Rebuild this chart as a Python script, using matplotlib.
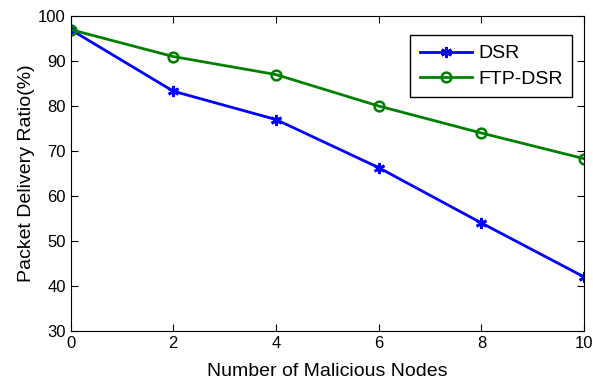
import matplotlib.pyplot as plt

plt.rcParams['font.family'] = ['Liberation Sans', 'DejaVu Sans']

nodes = [0, 2, 4, 6, 8, 10]
dsr = [97, 83.3, 77, 66.3, 54, 42]
ftp_dsr = [97, 91, 87, 80, 74, 68.3]

fig = plt.figure(figsize=(5.93, 3.83), dpi=100)
ax = fig.add_axes([0.119, 0.136, 0.866, 0.822])

# asterisk marker for DSR, open circles for FTP-DSR
ax.plot(nodes, dsr, color='#0000ff', lw=2, marker=(6, 2, 0), ms=8, mew=2,
        label='DSR')
ax.plot(nodes, ftp_dsr, color='#008000', lw=2, marker='o', ms=7,
        mfc='none', mew=1.8, label='FTP-DSR')

ax.set_xlim(0, 10)
ax.set_ylim(30, 100)
ax.set_xticks(nodes)
ax.set_yticks(range(30, 101, 10))
ax.tick_params(direction='in', top=True, right=True, labelsize=12, length=5)
ax.set_xlabel('Number of Malicious Nodes', fontsize=14, labelpad=9)
ax.set_ylabel('Packet Delivery Ratio(%)', fontsize=14, labelpad=2)

leg = ax.legend(loc='upper right', bbox_to_anchor=(0.977, 0.94), fontsize=14,
                fancybox=False, edgecolor='black', framealpha=1,
                handlelength=2.7, handletextpad=0.3, borderpad=0.5,
                labelspacing=0.4, borderaxespad=0)
leg.get_frame().set_linewidth(1)

fig.savefig('out.png', dpi=100)
